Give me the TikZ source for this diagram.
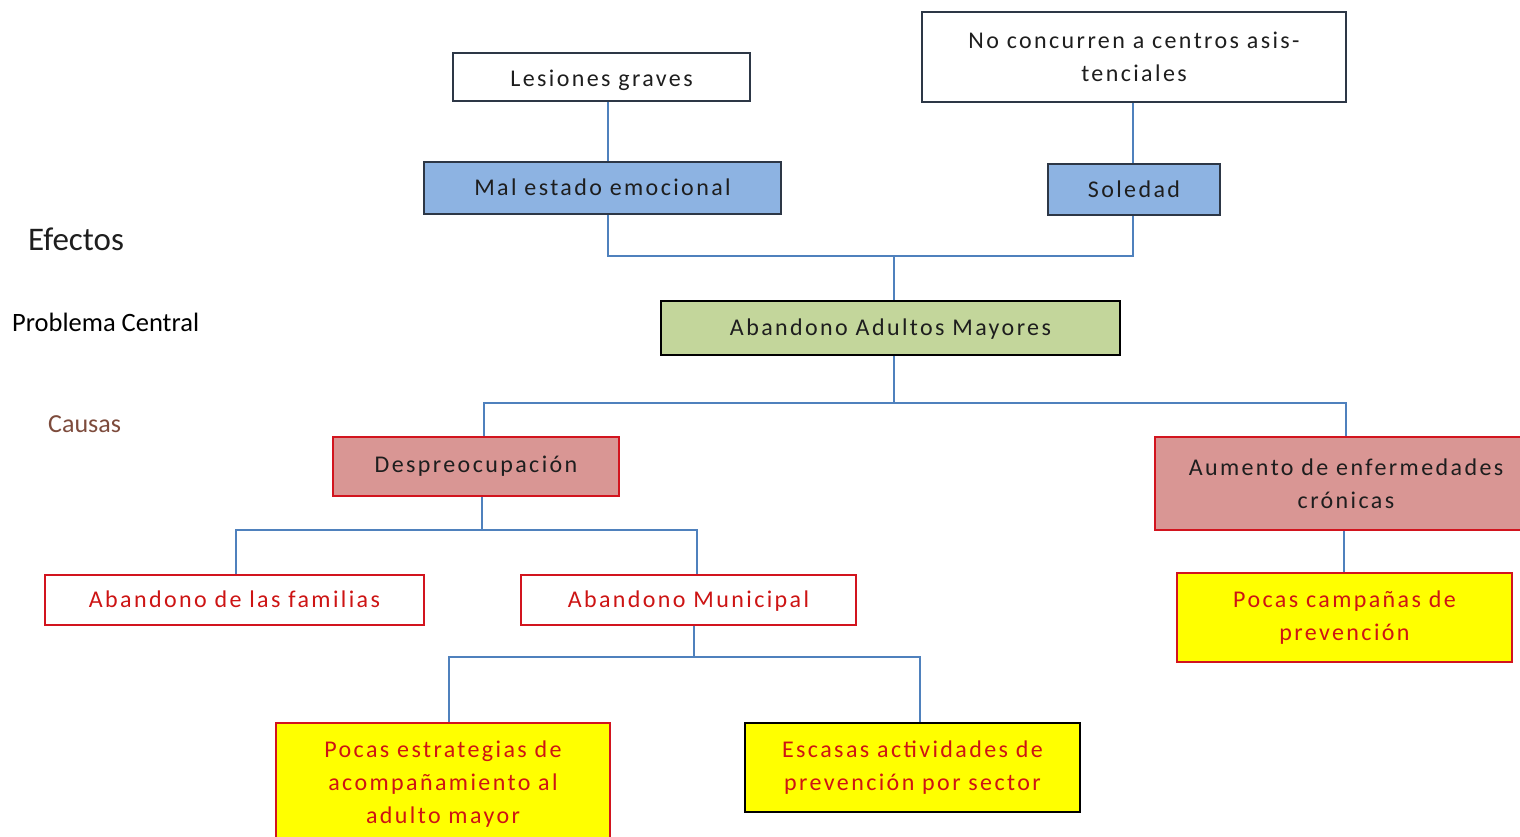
\documentclass[tikz,border=0pt]{standalone}
\usepackage{fontspec}
\setmainfont{Carlito}
\newfontfamily\boxfont[LetterSpace=10]{Carlito}
\definecolor{blueFill}{RGB}{141,179,226}
\definecolor{greenFill}{RGB}{195,214,155}
\definecolor{pinkFill}{RGB}{217,150,148}
\definecolor{yellowFill}{RGB}{255,255,0}
\definecolor{lineBlue}{RGB}{79,129,189}
\definecolor{darkBorder}{RGB}{45,55,70}
\definecolor{redBorder}{RGB}{210,20,30}
\definecolor{redText}{RGB}{205,20,20}
\definecolor{textDark}{RGB}{30,30,30}
\definecolor{causasBrown}{RGB}{125,75,60}
\tikzset{
  box/.style={draw, rectangle, line width=1.7pt, align=center, inner sep=0pt,
    font=\boxfont\fontsize{24}{33}\selectfont, text=textDark},
  onel/.style={text height=18pt, text depth=3pt},
  topbox/.style={box, draw=darkBorder, fill=white},
  bluebox/.style={box, draw=darkBorder, fill=blueFill},
  greenbox/.style={box, draw=black, fill=greenFill},
  pinkbox/.style={box, draw=redBorder, fill=pinkFill},
  redbox/.style={box, draw=redBorder, fill=white, text=redText},
  yelbox/.style={box, draw=redBorder, fill=yellowFill, text=redText},
  conn/.style={draw=lineBlue, line width=1.6pt},
  sidelabel/.style={anchor=west, inner sep=0pt}
}
\begin{document}
\begin{tikzpicture}[x=1pt,y=-1pt]
\useasboundingbox (0,0) rectangle (1520,837);
% effects
\node[topbox, text height=21pt, text depth=2pt, minimum width=297pt, minimum height=48pt] (les) at (601.5,77) {Lesiones graves};
\node[topbox, minimum width=424pt, minimum height=90pt] (noc) at (1134,57) {No concurren a centros asis-\\tenciales};
\node[bluebox, onel, minimum width=357pt, minimum height=52pt] (mal) at (602.5,188) {Mal estado emocional};
\node[bluebox, onel, minimum width=172pt, minimum height=51pt] (sol) at (1134,189.5) {Soledad};
% central
\node[greenbox, onel, minimum width=459pt, minimum height=54pt] (aam) at (890.5,328) {Abandono Adultos Mayores};
% causes
\node[pinkbox, text height=17pt, text depth=6pt, minimum width=286pt, minimum height=59pt] (des) at (476,466.5) {Despreocupación};
\node[pinkbox, minimum width=382pt, minimum height=93pt] (aum) at (1346,483.5) {Aumento de enfermedades\\crónicas};
\node[redbox, onel, minimum width=379pt, minimum height=50pt] (fam) at (234.5,600) {Abandono de las familias};
\node[redbox, onel, minimum width=335pt, minimum height=50pt] (mun) at (688.5,600) {Abandono Municipal};
\node[yelbox, minimum width=335pt, minimum height=89pt] (pca) at (1344.5,617.5) {Pocas campañas de\\prevención};
\node[yelbox, minimum width=334pt, minimum height=122pt] (pce) at (443,784) {Pocas estrategias de\\acompañamiento al\\adulto mayor};
\node[yelbox, draw=black, minimum width=335pt, minimum height=89pt] (esc) at (912.5,767.5) {Escasas actividades de\\prevención por sector};
% side labels
\node[sidelabel, font=\fontsize{33}{33}\selectfont, text=textDark] (lefe) at (28,239) {Efectos};
\node[sidelabel, font=\fontsize{26.5}{26.5}\selectfont, text=black] (lpc) at (12,322) {Problema Central};
\node[sidelabel, font=\fontsize{26}{26}\selectfont, text=causasBrown] (lcau) at (48,424) {Causas};
% junctions
\coordinate (jtop) at (894,256);
\coordinate (jc) at (894,403);
\coordinate (jd) at (482,530);
\coordinate (jm) at (694,657);
% connectors
\draw[conn] ([xshift=6.5pt]les.south) -- ([xshift=5.5pt]mal.north);
\draw[conn] ([xshift=-1pt]noc.south) -- ([xshift=-1pt]sol.north);
\draw[conn] ([xshift=5.5pt]mal.south) |- (jtop) -| ([xshift=-1pt]sol.south);
\draw[conn] (jtop) -- (aam.north -| jtop);
\draw[conn] (aam.south -| jc) -- (jc);
\draw[conn] ([xshift=8pt]des.north) |- (jc) -| (aum.north);
\draw[conn] (des.south -| jd) -- (jd);
\draw[conn] ([xshift=1.5pt]fam.north) |- (jd) -| ([xshift=8.5pt]mun.north);
\draw[conn] (mun.south -| jm) -- (jm);
\draw[conn] ([xshift=6pt]pce.north) |- (jm) -| ([xshift=7.5pt]esc.north);
\draw[conn] ([xshift=-2pt]aum.south) -- ([xshift=-0.5pt]pca.north);
\end{tikzpicture}
\end{document}
